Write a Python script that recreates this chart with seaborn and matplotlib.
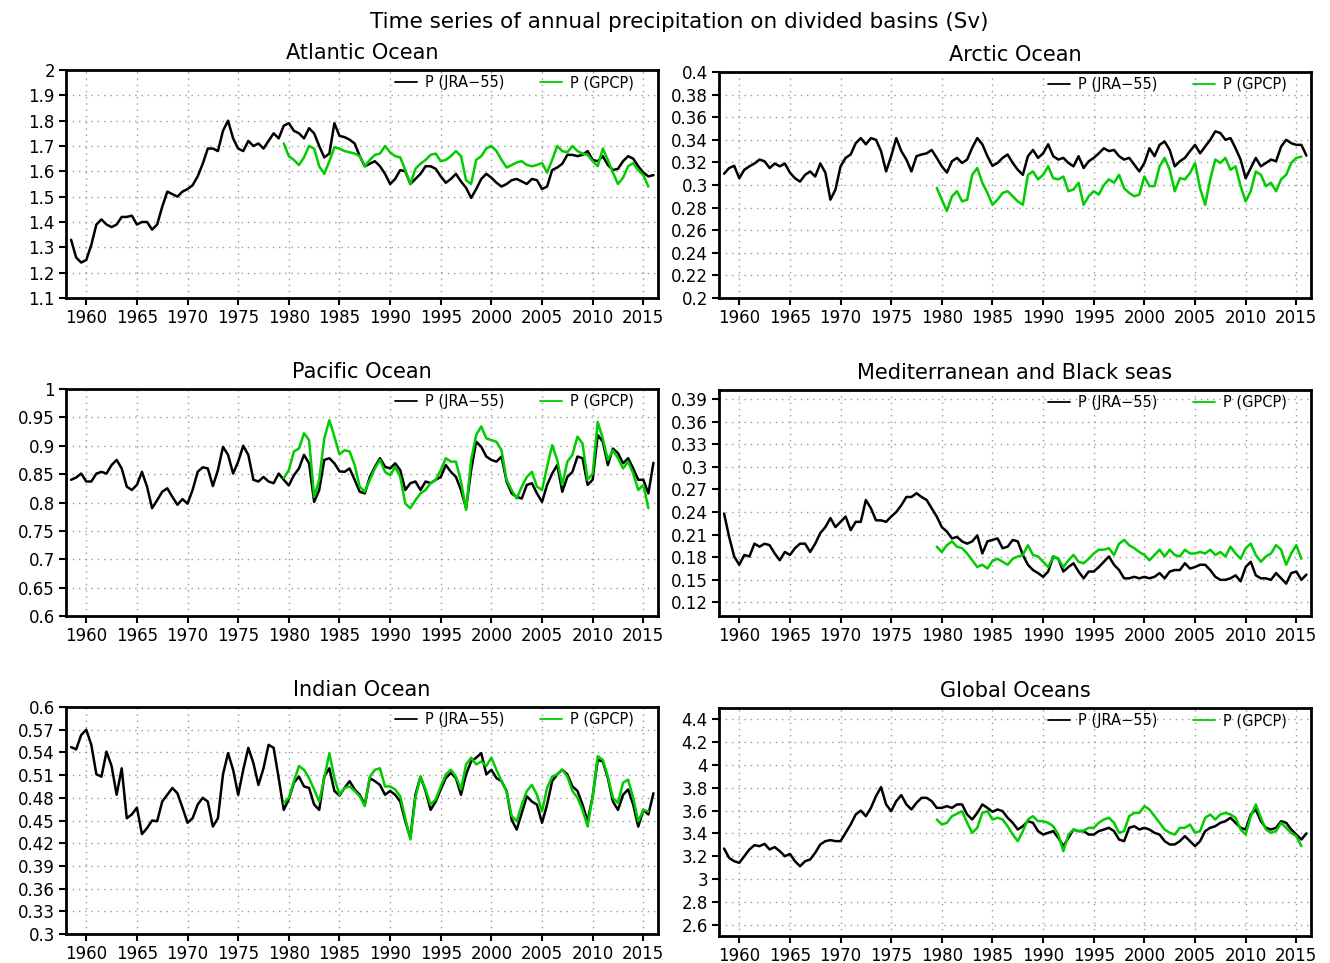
import numpy as np
import pandas as pd
import matplotlib
matplotlib.use("Agg")
import matplotlib.pyplot as plt
import seaborn as sns

# Running-annual precipitation (Sv), half-year sampling
JRA_START = 1958.5
GPCP_START = 1979.5
STEP = 0.5

atlantic_jra = [
    1.33, 1.26, 1.24, 1.25, 1.31, 1.39, 1.41, 1.39, 1.38, 1.39,
    1.42, 1.42, 1.425, 1.39, 1.40, 1.40, 1.37, 1.39, 1.46, 1.52,
    1.51, 1.50, 1.52, 1.53, 1.545, 1.58, 1.63, 1.69, 1.69, 1.68,
    1.76, 1.80, 1.73, 1.69, 1.68, 1.72, 1.70, 1.71, 1.69, 1.72,
    1.75, 1.73, 1.78, 1.79, 1.76, 1.75, 1.73, 1.77, 1.75, 1.70,
    1.655, 1.67, 1.79, 1.74, 1.735, 1.725, 1.71, 1.66, 1.62, 1.63,
    1.64, 1.62, 1.59, 1.55, 1.57, 1.605, 1.60, 1.55, 1.57, 1.59,
    1.62, 1.62, 1.61, 1.58, 1.555, 1.57, 1.59, 1.56, 1.535, 1.495,
    1.53, 1.57, 1.59, 1.575, 1.555, 1.54, 1.55, 1.565, 1.57, 1.56,
    1.55, 1.57, 1.565, 1.53, 1.54, 1.605, 1.615, 1.63, 1.665, 1.665,
    1.66, 1.665, 1.68, 1.645, 1.64, 1.66, 1.625, 1.605, 1.61, 1.64,
    1.66, 1.65, 1.62, 1.595, 1.58, 1.585,
]
atlantic_gpcp = [
    1.71, 1.66, 1.645, 1.625, 1.655, 1.70, 1.69, 1.62, 1.59, 1.64,
    1.695, 1.69, 1.68, 1.675, 1.67, 1.66, 1.62, 1.645, 1.665, 1.67,
    1.70, 1.675, 1.66, 1.655, 1.605, 1.55, 1.61, 1.63, 1.645, 1.665,
    1.67, 1.64, 1.645, 1.66, 1.68, 1.66, 1.565, 1.55, 1.645, 1.66,
    1.69, 1.70, 1.68, 1.645, 1.615, 1.625, 1.635, 1.64, 1.625, 1.62,
    1.625, 1.633, 1.595, 1.645, 1.70, 1.68, 1.675, 1.70, 1.68, 1.67,
    1.665, 1.64, 1.62, 1.69, 1.645, 1.595, 1.55, 1.575, 1.62, 1.633,
    1.605, 1.585, 1.54,
]

arctic_jra = [
    0.310, 0.315, 0.317, 0.306, 0.3135, 0.3165, 0.319, 0.3225, 0.321, 0.315,
    0.319, 0.3165, 0.319, 0.311, 0.306, 0.303, 0.309, 0.312, 0.3075, 0.319,
    0.311, 0.287, 0.296, 0.3165, 0.324, 0.327, 0.337, 0.3415, 0.336, 0.3415,
    0.340, 0.330, 0.312, 0.3255, 0.3415, 0.330, 0.3225, 0.312, 0.3255, 0.327,
    0.328, 0.331, 0.324, 0.3165, 0.311, 0.321, 0.324, 0.3195, 0.3225, 0.333,
    0.3415, 0.336, 0.3255, 0.317, 0.3195, 0.324, 0.327, 0.3195, 0.3135, 0.309,
    0.3255, 0.331, 0.324, 0.328, 0.336, 0.3255, 0.3225, 0.324, 0.3195, 0.3165,
    0.3255, 0.315, 0.321, 0.324, 0.328, 0.3325, 0.330, 0.331, 0.3255, 0.3225,
    0.324, 0.318, 0.312, 0.3195, 0.3325, 0.3255, 0.3355, 0.3385, 0.331, 0.3165,
    0.321, 0.324, 0.330, 0.3355, 0.328, 0.334, 0.340, 0.3475, 0.346, 0.340,
    0.3415, 0.3325, 0.3225, 0.306, 0.315, 0.324, 0.3165, 0.3195, 0.3225, 0.321,
    0.334, 0.340, 0.337, 0.3355, 0.3355, 0.326,
]
arctic_gpcp = [
    0.2975, 0.287, 0.277, 0.290, 0.2945, 0.2855, 0.287, 0.309, 0.315, 0.302,
    0.293, 0.2825, 0.287, 0.293, 0.2945, 0.290, 0.2855, 0.2825, 0.309, 0.312,
    0.305, 0.309, 0.3165, 0.306, 0.305, 0.3075, 0.2945, 0.296, 0.302, 0.2825,
    0.290, 0.2945, 0.2915, 0.300, 0.305, 0.302, 0.309, 0.297, 0.293, 0.290,
    0.2915, 0.3075, 0.299, 0.299, 0.3165, 0.324, 0.3135, 0.2945, 0.306, 0.305,
    0.3105, 0.3195, 0.297, 0.2825, 0.305, 0.3225, 0.3195, 0.324, 0.3135, 0.3165,
    0.299, 0.2855, 0.2945, 0.312, 0.309, 0.299, 0.302, 0.2945, 0.305, 0.309,
    0.3195, 0.324, 0.325,
]

pacific_jra = [
    0.840, 0.844, 0.851, 0.837, 0.837, 0.851, 0.854, 0.851, 0.866, 0.875,
    0.860, 0.828, 0.822, 0.831, 0.854, 0.828, 0.790, 0.804, 0.819, 0.825,
    0.810, 0.796, 0.806, 0.798, 0.822, 0.854, 0.862, 0.860, 0.829, 0.857,
    0.898, 0.884, 0.851, 0.872, 0.900, 0.884, 0.840, 0.837, 0.845, 0.837,
    0.834, 0.851, 0.840, 0.830, 0.848, 0.860, 0.884, 0.869, 0.801, 0.822,
    0.875, 0.878, 0.869, 0.855, 0.854, 0.860, 0.840, 0.819, 0.816, 0.845,
    0.863, 0.878, 0.863, 0.860, 0.869, 0.857, 0.822, 0.834, 0.837, 0.822,
    0.837, 0.834, 0.840, 0.845, 0.866, 0.854, 0.845, 0.822, 0.790, 0.857,
    0.907, 0.898, 0.881, 0.875, 0.872, 0.881, 0.837, 0.816, 0.810, 0.807,
    0.831, 0.834, 0.816, 0.801, 0.831, 0.851, 0.866, 0.819, 0.845, 0.854,
    0.881, 0.878, 0.831, 0.840, 0.919, 0.907, 0.866, 0.895, 0.887, 0.869,
    0.878, 0.860, 0.840, 0.840, 0.816, 0.870,
]
pacific_gpcp = [
    0.843, 0.857, 0.890, 0.895, 0.922, 0.910, 0.810, 0.840, 0.913, 0.945,
    0.916, 0.885, 0.892, 0.890, 0.866, 0.828, 0.819, 0.840, 0.860, 0.875,
    0.854, 0.848, 0.863, 0.845, 0.798, 0.790, 0.804, 0.816, 0.822, 0.834,
    0.840, 0.857, 0.878, 0.872, 0.872, 0.837, 0.787, 0.875, 0.919, 0.934,
    0.913, 0.910, 0.907, 0.892, 0.840, 0.822, 0.807, 0.828, 0.845, 0.854,
    0.828, 0.822, 0.863, 0.901, 0.875, 0.831, 0.872, 0.884, 0.916, 0.904,
    0.840, 0.851, 0.942, 0.913, 0.875, 0.892, 0.878, 0.860, 0.872, 0.851,
    0.822, 0.831, 0.790,
]

med_jra = [
    0.238, 0.207, 0.181, 0.170, 0.183, 0.181, 0.198, 0.194, 0.198, 0.196,
    0.185, 0.176, 0.187, 0.183, 0.192, 0.198, 0.198, 0.187, 0.198, 0.212,
    0.220, 0.232, 0.220, 0.227, 0.234, 0.216, 0.227, 0.227, 0.256, 0.245,
    0.229, 0.229, 0.227, 0.234, 0.240, 0.249, 0.260, 0.260, 0.265, 0.260,
    0.256, 0.245, 0.234, 0.220, 0.214, 0.205, 0.207, 0.201, 0.198, 0.201,
    0.209, 0.185, 0.201, 0.203, 0.205, 0.192, 0.194, 0.203, 0.201, 0.183,
    0.170, 0.163, 0.159, 0.154, 0.161, 0.181, 0.178, 0.161, 0.167, 0.172,
    0.161, 0.152, 0.161, 0.161, 0.167, 0.174, 0.181, 0.170, 0.163, 0.152,
    0.152, 0.154, 0.152, 0.154, 0.152, 0.154, 0.159, 0.152, 0.161, 0.163,
    0.163, 0.172, 0.165, 0.167, 0.170, 0.170, 0.163, 0.154, 0.150, 0.150,
    0.152, 0.156, 0.148, 0.167, 0.174, 0.156, 0.152, 0.152, 0.150, 0.159,
    0.152, 0.145, 0.159, 0.161, 0.150, 0.157,
]
med_gpcp = [
    0.194, 0.187, 0.196, 0.201, 0.194, 0.192, 0.185, 0.176, 0.167, 0.170,
    0.165, 0.175, 0.178, 0.174, 0.170, 0.178, 0.181, 0.183, 0.196, 0.183,
    0.181, 0.174, 0.167, 0.181, 0.178, 0.167, 0.176, 0.183, 0.174, 0.172,
    0.178, 0.185, 0.190, 0.190, 0.192, 0.183, 0.198, 0.203, 0.196, 0.192,
    0.187, 0.183, 0.176, 0.183, 0.190, 0.181, 0.190, 0.183, 0.181, 0.190,
    0.185, 0.185, 0.187, 0.185, 0.190, 0.183, 0.187, 0.181, 0.194, 0.185,
    0.178, 0.192, 0.198, 0.183, 0.174, 0.181, 0.185, 0.196, 0.190, 0.170,
    0.185, 0.196, 0.178,
]

indian_jra = [
    0.547, 0.544, 0.563, 0.570, 0.550, 0.511, 0.508, 0.541, 0.522, 0.484,
    0.519, 0.453, 0.458, 0.467, 0.432, 0.440, 0.450, 0.449, 0.475, 0.484,
    0.493, 0.486, 0.467, 0.447, 0.453, 0.471, 0.480, 0.475, 0.442, 0.453,
    0.511, 0.539, 0.517, 0.484, 0.517, 0.546, 0.526, 0.497, 0.519, 0.550,
    0.546, 0.506, 0.464, 0.478, 0.500, 0.508, 0.495, 0.493, 0.471, 0.464,
    0.508, 0.519, 0.489, 0.483, 0.493, 0.502, 0.491, 0.484, 0.471, 0.506,
    0.502, 0.497, 0.484, 0.489, 0.484, 0.475, 0.449, 0.427, 0.484, 0.508,
    0.489, 0.464, 0.475, 0.491, 0.506, 0.513, 0.506, 0.484, 0.511, 0.528,
    0.533, 0.539, 0.511, 0.517, 0.506, 0.502, 0.489, 0.451, 0.438, 0.460,
    0.482, 0.475, 0.471, 0.447, 0.471, 0.502, 0.511, 0.517, 0.511, 0.495,
    0.489, 0.471, 0.449, 0.482, 0.530, 0.528, 0.506, 0.475, 0.464, 0.484,
    0.491, 0.471, 0.442, 0.464, 0.458, 0.486,
]
indian_gpcp = [
    0.473, 0.480, 0.502, 0.522, 0.517, 0.506, 0.491, 0.475, 0.506, 0.539,
    0.506, 0.484, 0.493, 0.495, 0.489, 0.482, 0.469, 0.508, 0.517, 0.519,
    0.495, 0.495, 0.491, 0.482, 0.453, 0.425, 0.480, 0.508, 0.491, 0.471,
    0.478, 0.495, 0.511, 0.517, 0.508, 0.491, 0.524, 0.533, 0.524, 0.528,
    0.522, 0.533, 0.517, 0.502, 0.489, 0.456, 0.449, 0.471, 0.489, 0.497,
    0.484, 0.462, 0.493, 0.508, 0.511, 0.517, 0.508, 0.489, 0.480, 0.464,
    0.442, 0.482, 0.535, 0.530, 0.508, 0.480, 0.473, 0.500, 0.504, 0.480,
    0.449, 0.464, 0.462,
]

global_jra = [
    3.267, 3.185, 3.156, 3.142, 3.200, 3.259, 3.297, 3.288, 3.308, 3.259,
    3.280, 3.244, 3.200, 3.220, 3.156, 3.112, 3.156, 3.171, 3.230, 3.303,
    3.332, 3.341, 3.332, 3.332, 3.405, 3.478, 3.566, 3.600, 3.551, 3.624,
    3.727, 3.806, 3.654, 3.595, 3.683, 3.736, 3.654, 3.610, 3.668, 3.712,
    3.712, 3.683, 3.624, 3.624, 3.639, 3.624, 3.654, 3.654, 3.566, 3.522,
    3.580, 3.654, 3.624, 3.590, 3.610, 3.595, 3.537, 3.493, 3.434, 3.463,
    3.507, 3.493, 3.420, 3.390, 3.405, 3.420, 3.361, 3.288, 3.361, 3.434,
    3.420, 3.420, 3.390, 3.390, 3.420, 3.434, 3.449, 3.420, 3.346, 3.332,
    3.449, 3.463, 3.434, 3.449, 3.434, 3.405, 3.390, 3.332, 3.303, 3.303,
    3.332, 3.376, 3.332, 3.288, 3.332, 3.420, 3.449, 3.463, 3.493, 3.507,
    3.537, 3.493, 3.449, 3.434, 3.566, 3.610, 3.507, 3.449, 3.434, 3.449,
    3.507, 3.493, 3.434, 3.390, 3.346, 3.400,
]
global_gpcp = [
    3.522, 3.478, 3.493, 3.551, 3.572, 3.595, 3.493, 3.405, 3.449, 3.580,
    3.595, 3.522, 3.537, 3.522, 3.463, 3.390, 3.332, 3.420, 3.522, 3.551,
    3.507, 3.507, 3.493, 3.463, 3.390, 3.244, 3.390, 3.434, 3.420, 3.425,
    3.449, 3.449, 3.493, 3.522, 3.537, 3.493, 3.405, 3.420, 3.551, 3.580,
    3.580, 3.639, 3.610, 3.551, 3.493, 3.434, 3.405, 3.390, 3.449, 3.449,
    3.478, 3.405, 3.420, 3.537, 3.566, 3.522, 3.566, 3.580, 3.566, 3.537,
    3.434, 3.390, 3.551, 3.654, 3.537, 3.434, 3.405, 3.420, 3.493, 3.449,
    3.405, 3.376, 3.288,
]

# Axis ticks
year_ticks = [1960, 1965, 1970, 1975, 1980, 1985, 1990, 1995, 2000, 2005, 2010, 2015]
atlantic_yticks = [1.1, 1.2, 1.3, 1.4, 1.5, 1.6, 1.7, 1.8, 1.9, 2.0]
arctic_yticks = [0.2, 0.22, 0.24, 0.26, 0.28, 0.3, 0.32, 0.34, 0.36, 0.38, 0.4]
pacific_yticks = [0.6, 0.65, 0.7, 0.75, 0.8, 0.85, 0.9, 0.95, 1.0]
med_yticks = [0.12, 0.15, 0.18, 0.21, 0.24, 0.27, 0.3, 0.33, 0.36, 0.39]
indian_yticks = [0.3, 0.33, 0.36, 0.39, 0.42, 0.45, 0.48, 0.51, 0.54, 0.57, 0.6]
global_yticks = [2.6, 2.8, 3.0, 3.2, 3.4, 3.6, 3.8, 4.0, 4.2, 4.4]

LABEL_JRA = "P (JRA\u221255)"
LABEL_GPCP = "P (GPCP)"
GREEN = "#00cc00"

sns.set_style("ticks")
plt.rcParams["font.family"] = ["DejaVu Sans"]
plt.rcParams["text.color"] = "black"
plt.rcParams["axes.labelcolor"] = "black"
plt.rcParams["xtick.color"] = "black"
plt.rcParams["ytick.color"] = "black"

fig = plt.figure(figsize=(13.3, 9.63), dpi=100)

W, H = 1330, 963


def rect(left, top, right, bottom):
    return [left / W, 1 - bottom / H, (right - left) / W, (bottom - top) / H]


panels = [
    ("Atlantic Ocean", atlantic_jra, atlantic_gpcp, (1.1, 2.0), atlantic_yticks,
     rect(66, 70, 658, 298)),
    ("Arctic Ocean", arctic_jra, arctic_gpcp, (0.2, 0.4), arctic_yticks,
     rect(719, 72, 1311, 298)),
    ("Pacific Ocean", pacific_jra, pacific_gpcp, (0.6, 1.0), pacific_yticks,
     rect(66, 389, 658, 616)),
    ("Mediterranean and Black seas", med_jra, med_gpcp, (0.102, 0.402), med_yticks,
     rect(719, 390, 1311, 616)),
    ("Indian Ocean", indian_jra, indian_gpcp, (0.3, 0.6), indian_yticks,
     rect(66, 707, 658, 934)),
    ("Global Oceans", global_jra, global_gpcp, (2.5, 4.5), global_yticks,
     rect(719, 708, 1311, 936)),
]


def series_frame(jra, gpcp):
    jra_years = JRA_START + STEP * np.arange(len(jra))
    gpcp_years = GPCP_START + STEP * np.arange(len(gpcp))
    return pd.concat([
        pd.DataFrame({"year": jra_years, "P": jra, "source": LABEL_JRA}),
        pd.DataFrame({"year": gpcp_years, "P": gpcp, "source": LABEL_GPCP}),
    ], ignore_index=True)


for title, jra, gpcp, ylim, yticks, box in panels:
    ax = fig.add_axes(box)
    df = series_frame(jra, gpcp)
    sns.lineplot(
        data=df, x="year", y="P", hue="source",
        hue_order=[LABEL_JRA, LABEL_GPCP],
        palette={LABEL_JRA: "black", LABEL_GPCP: GREEN},
        estimator=None, linewidth=1.8, ax=ax,
    )
    ax.set_xlim(1958.0, 2016.45)
    ax.set_ylim(*ylim)
    ax.set_xticks(year_ticks)
    ax.set_yticks(yticks)
    ax.set_yticklabels([f"{round(v, 4):g}" for v in yticks])
    ax.set_xlabel("")
    ax.set_ylabel("")
    ax.grid(True, color="#9a9a9a", linestyle=(0, (1, 3.5)), linewidth=1.0)
    ax.tick_params(axis="both", direction="out", length=5, width=1.5,
                   labelsize=12, pad=3, colors="black")
    for s in ax.spines.values():
        s.set_visible(True)
        s.set_linewidth(2.0)
        s.set_color("black")
    ax.set_title(title, fontsize=15, pad=8, color="black")
    leg = ax.legend(
        loc="center right", bbox_to_anchor=(0.96, 0.945), ncol=2,
        frameon=False, fontsize=10.5, handlelength=1.5, handletextpad=0.6,
        columnspacing=2.4, borderpad=0, borderaxespad=0,
    )
    for line in leg.get_lines():
        line.set_linewidth(1.3)
    for txt in leg.get_texts():
        txt.set_color("black")

fig.text(0.5105, 1 - 22 / H,
         "Time series of annual precipitation on divided basins (Sv)",
         ha="center", va="center", fontsize=15.5, color="black")

fig.savefig("out.png", dpi=100)
